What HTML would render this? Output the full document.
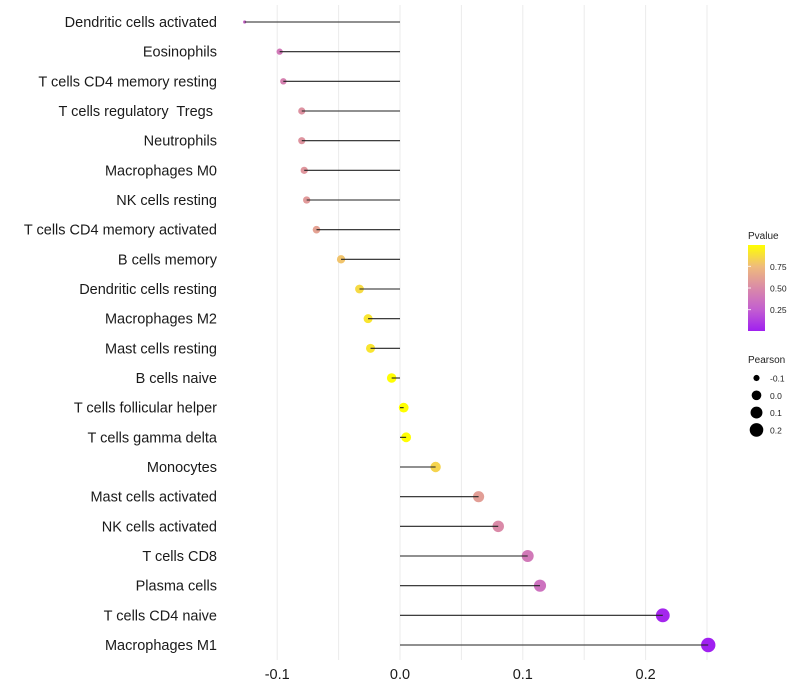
<!DOCTYPE html>
<html><head><meta charset="utf-8"><style>
html,body{margin:0;padding:0;background:#fff}
svg{display:block;font-family:"Liberation Sans",sans-serif}
</style></head><body>
<svg id="chart" width="800" height="700" xmlns="http://www.w3.org/2000/svg">
<defs><linearGradient id="pg" x1="0" y1="1" x2="0" y2="0">
<stop offset="0" stop-color="#a020f0"/><stop offset="0.25" stop-color="#c35fd0"/><stop offset="0.5" stop-color="#da8aa8"/><stop offset="0.75" stop-color="#efbb7c"/><stop offset="1" stop-color="#ffff00"/></linearGradient></defs>
<g id="grid"></g>
<g id="marks"></g>
<g id="ylab"></g>
<g id="xlab"></g>
<g>
<text x="748" y="239" font-size="10" fill="#222">Pvalue</text>
<rect x="748" y="245" width="17" height="86" fill="url(#pg)"/>
<g id="cbticks"></g>
</g>
<g id="sizeleg">
<text x="748" y="363" font-size="10" fill="#222">Pearson</text>
</g>
</svg>
<script>
const categories=["Dendritic cells activated","Eosinophils","T cells CD4 memory resting","T cells regulatory  Tregs ","Neutrophils","Macrophages M0","NK cells resting","T cells CD4 memory activated","B cells memory","Dendritic cells resting","Macrophages M2","Mast cells resting","B cells naive","T cells follicular helper","T cells gamma delta","Monocytes","Mast cells activated","NK cells activated","T cells CD8","Plasma cells","T cells CD4 naive","Macrophages M1"];
const pearson=[-0.1265,-0.098,-0.095,-0.080,-0.080,-0.078,-0.076,-0.068,-0.048,-0.033,-0.026,-0.024,-0.0068,0.003,0.005,0.029,0.064,0.080,0.104,0.114,0.214,0.251];
const pvalue=[0.30,0.40,0.45,0.54,0.55,0.56,0.58,0.62,0.78,0.86,0.90,0.90,0.99,0.995,0.99,0.84,0.60,0.50,0.40,0.36,0.03,0.005];
const xTicks=[-0.1,0.0,0.1,0.2];
const xTickLabels=["-0.1","0.0","0.1","0.2"];
const cbTicks=[0.25,0.50,0.75];
const sizeLegend=[-0.1,0.0,0.1,0.2];
const NS="http://www.w3.org/2000/svg";
const x=v=>400+v*1228;
const y=i=>22+i*(623/(categories.length-1));
const pmin=Math.min(...pvalue),pmax=Math.max(...pvalue);
const rmin=Math.min(...pearson),rmax=Math.max(...pearson);
const rad=v=>1.6+5.6*Math.sqrt(Math.max(0,(v-rmin)/(rmax-rmin)));
const stops=[[0,[160,32,240]],[0.25,[195,95,208]],[0.5,[218,138,168]],[0.75,[239,187,124]],[1,[255,255,0]]];
function col(p){let t=(p-pmin)/(pmax-pmin);t=Math.max(0,Math.min(1,t));
for(let k=1;k<stops.length;k++){if(t<=stops[k][0]){const a=stops[k-1],b=stops[k];const f=(t-a[0])/(b[0]-a[0]);
return "rgb("+a[1].map((c,j)=>Math.round(c+(b[1][j]-c)*f)).join(",")+")";}}return "rgb(255,255,0)";}
function mk(tag,attrs,parent){const e=document.createElementNS(NS,tag);for(const k in attrs)e.setAttribute(k,attrs[k]);parent.appendChild(e);return e;}
const grid=document.getElementById('grid');
for(let v=-0.1;v<=0.2501;v+=0.05){const g=mk('line',{x1:x(v),x2:x(v),y1:5,y2:660,stroke:'#ebebeb','stroke-width':1},grid);

}
const marks=document.getElementById('marks'),ylab=document.getElementById('ylab');
categories.forEach((c,i)=>{
const pt=mk('circle',{cx:x(pearson[i]),cy:y(i),r:rad(pearson[i]),fill:col(pvalue[i])},marks);


const ln=mk('line',{x1:x(0),x2:x(pearson[i]),y1:y(i),y2:y(i),stroke:'#222','stroke-width':1.1},marks);


const t=mk('text',{x:217,y:y(i)+5,'text-anchor':'end','font-size':14.5,fill:'#1a1a1a',style:'white-space:pre'},ylab);
t.textContent=c;


});
const xlab=document.getElementById('xlab');
xTicks.forEach((v,i)=>{const t=mk('text',{x:x(v),y:679,'text-anchor':'middle','font-size':14.5,fill:'#1a1a1a'},xlab);
t.textContent=xTickLabels[i];

});
const cb=document.getElementById('cbticks');
cbTicks.forEach(v=>{const yy=331-(v-pmin)/(pmax-pmin)*86;
const l=mk('line',{x1:748,x2:751,y1:yy,y2:yy,stroke:'#fff','stroke-width':0.8},cb);


const t=mk('text',{x:770,y:yy+3.5,'font-size':8.5,fill:'#222'},cb);t.textContent=v.toFixed(2);

});
const sl=document.getElementById('sizeleg');
sizeLegend.forEach((v,i)=>{const yy=378+i*17.3;
const c=mk('circle',{cx:756.5,cy:yy,r:rad(v),fill:'#000'},sl);


const t=mk('text',{x:770,y:yy+3.5,'font-size':8.5,fill:'#222'},sl);t.textContent=v.toFixed(1);

});
</script>
</body></html>
